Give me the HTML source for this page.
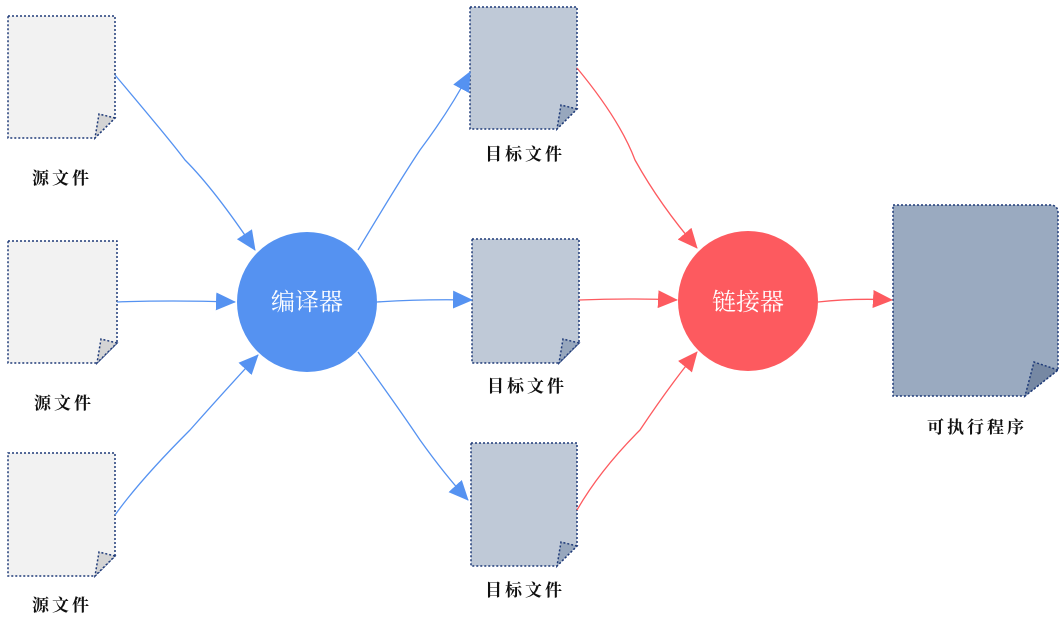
<!DOCTYPE html>
<html><head><meta charset="utf-8"><style>
html,body{margin:0;padding:0;background:#fff;width:1064px;height:617px;overflow:hidden}
svg{display:block}
.lbl{font-family:"Liberation Serif","Noto Serif CJK SC",serif;font-weight:bold;font-size:17px;fill:#111;letter-spacing:3px;text-anchor:middle}
.ct{font-family:"Noto Serif CJK SC",serif;font-size:24px;fill:#fff;text-anchor:middle}
.doc{stroke:#1e3a78;stroke-width:1.5;stroke-dasharray:2 2}
</style></head><body>
<svg width="1064" height="617" viewBox="0 0 1064 617">
<defs>
<marker id="ab" markerWidth="20" markerHeight="18" refX="19" refY="9" orient="auto" markerUnits="userSpaceOnUse" viewBox="0 0 20 18"><path d="M0,0 L20,9 L0,18z" fill="#5592f1"/></marker>
<marker id="ar" markerWidth="20" markerHeight="18" refX="19" refY="9" orient="auto" markerUnits="userSpaceOnUse" viewBox="0 0 20 18"><path d="M0,0 L20,9 L0,18z" fill="#fd5a5f"/></marker>
</defs>
<path class="doc" fill="#f2f2f2" d="M8,16 L115,16 L115,118 L95,138 L8,138z"/>
<path class="doc" fill="#d4d4d4" d="M115,118 L99,114 L95,138z"/>
<path class="doc" fill="#f2f2f2" d="M8,241 L117,241 L117,343 L97,363 L8,363z"/>
<path class="doc" fill="#d4d4d4" d="M117,343 L101,339 L97,363z"/>
<path class="doc" fill="#f2f2f2" d="M8,453 L115,453 L115,556 L95,576 L8,576z"/>
<path class="doc" fill="#d4d4d4" d="M115,556 L99,552 L95,576z"/>
<path class="doc" fill="#bfc9d7" d="M470,7 L577,7 L577,109 L557,129 L470,129z"/>
<path class="doc" fill="#97a7bd" d="M577,109 L561,105 L557,129z"/>
<path class="doc" fill="#bfc9d7" d="M472,239 L579,239 L579,343 L559,363 L472,363z"/>
<path class="doc" fill="#97a7bd" d="M579,343 L563,339 L559,363z"/>
<path class="doc" fill="#bfc9d7" d="M471,443 L577,443 L577,546 L557,566 L471,566z"/>
<path class="doc" fill="#97a7bd" d="M577,546 L561,542 L557,566z"/>
<path class="doc" fill="#9aaac0" d="M893,205 L1050,205 Q1058,205 1058,213 L1058,370 L1025,396 L893,396z"/>
<path class="doc" fill="#7688a3" d="M1058,370 L1034,362 L1025,396z"/>
<circle cx="307" cy="302" r="70" fill="#5592f1"/>
<text class="ct" x="307" y="310">编译器</text>
<circle cx="748" cy="301" r="70" fill="#fd5a5f"/>
<text class="ct" x="748" y="310">链接器</text>
<g fill="none" stroke="#5592f1" stroke-width="1.3">
<path d="M115,75 Q170,140 185,160 Q215,190 255,250" marker-end="url(#ab)"/>
<path d="M117,302 Q170,300 235,302" marker-end="url(#ab)"/>
<path d="M115,515 Q140,480 190,430 Q230,385 258,355" marker-end="url(#ab)"/>
<path d="M358,250 Q400,180 420,150 Q450,110 470,72" marker-end="url(#ab)"/>
<path d="M377,302 Q420,299 472,300" marker-end="url(#ab)"/>
<path d="M358,352 Q400,410 420,440 Q445,475 468,500" marker-end="url(#ab)"/>
</g>
<g fill="none" stroke="#fd5a5f" stroke-width="1.3">
<path d="M577,68 Q620,120 635,160 Q660,205 697,248" marker-end="url(#ar)"/>
<path d="M579,300 Q630,298 677,300" marker-end="url(#ar)"/>
<path d="M577,510 Q600,470 640,430 Q670,385 697,352" marker-end="url(#ar)"/>
<path d="M818,302 Q855,298 892,300" marker-end="url(#ar)"/>
</g>
<text class="lbl" x="62" y="184">源文件</text>
<text class="lbl" x="64" y="409">源文件</text>
<text class="lbl" x="62" y="611">源文件</text>
<text class="lbl" x="525" y="160">目标文件</text>
<text class="lbl" x="527" y="392">目标文件</text>
<text class="lbl" x="525" y="596">目标文件</text>
<text class="lbl" x="977" y="433">可执行程序</text>
</svg>
</body></html>
